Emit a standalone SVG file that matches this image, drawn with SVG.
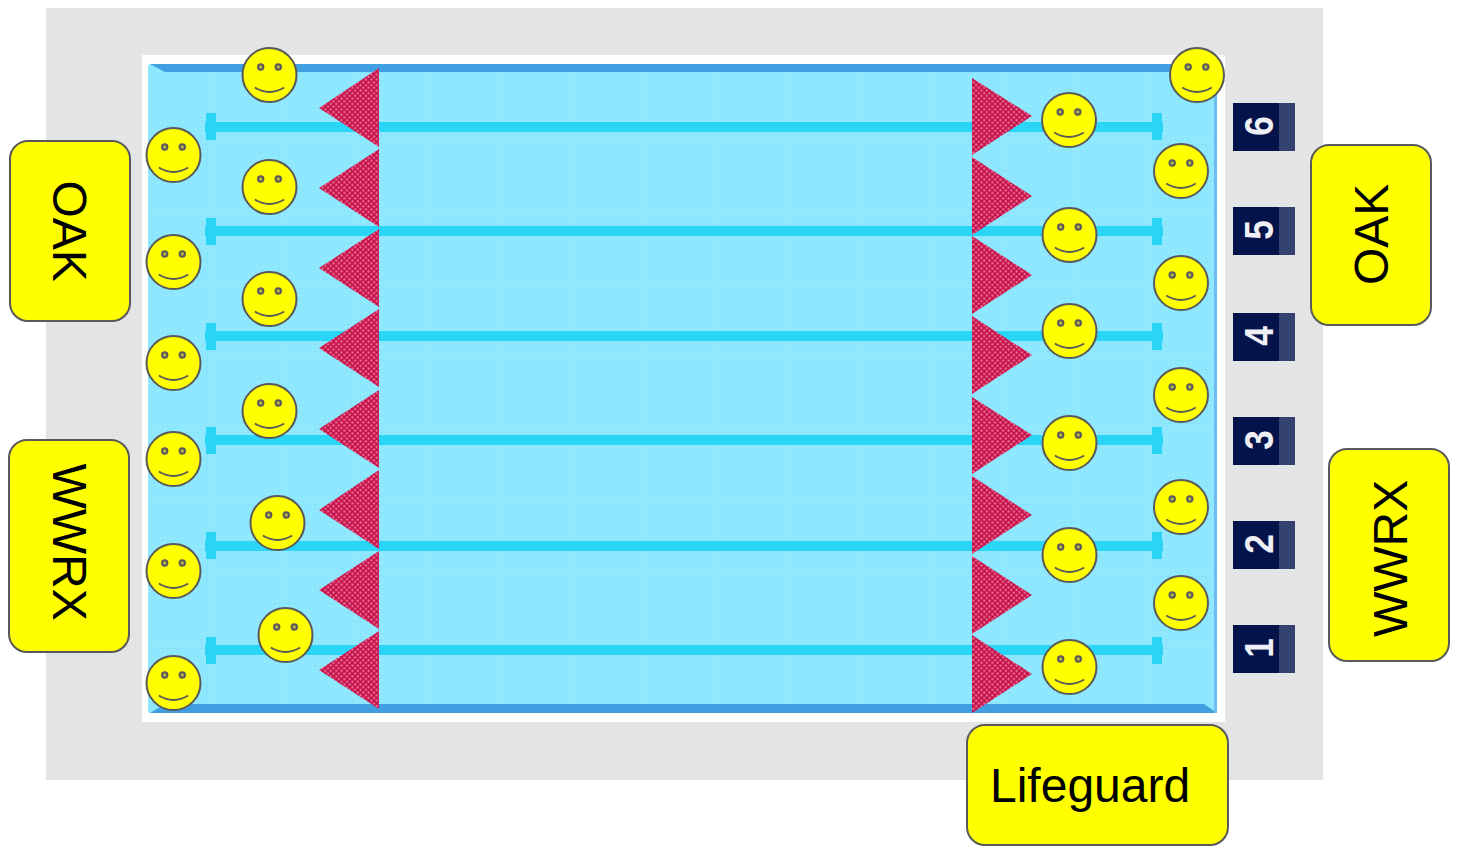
<svg xmlns="http://www.w3.org/2000/svg" width="1462" height="849" viewBox="0 0 1462 849">
<style>
.lab{fill:#ffff00;stroke:#595959;stroke-width:2}
.t{font-family:"Liberation Sans",Arial,sans-serif;font-size:48px;fill:#000}
.n{font-family:"Liberation Sans",Arial,sans-serif;font-size:41px;font-weight:bold;fill:#eef0f5;text-anchor:middle}
.lane{fill:#29d6f8}
.end{fill:#2ad4f2}
.tile{fill:#04134a}
.band{fill:#33426f}
.flag{fill:url(#dots)}
</style>
<defs>
<pattern id="dots" width="5.4" height="5.4" patternUnits="userSpaceOnUse">
<rect width="5.4" height="5.4" fill="#c4124c"/>
<circle cx="1.4" cy="1.4" r="1.1" fill="#f27a99"/>
<circle cx="4.1" cy="4.1" r="1.1" fill="#f27a99"/>
</pattern>
<pattern id="water" width="9" height="9" patternUnits="userSpaceOnUse">
<rect width="9" height="9" fill="#8fe8fd"/>
<path d="M0 0H9M0 0V9" stroke="#86e2fb" stroke-width="1" fill="none"/>
</pattern>
<symbol id="smile" overflow="visible">
<circle r="27" fill="#ffff00" stroke="#595959" stroke-width="2"/>
<circle cx="-8.8" cy="-8" r="2.7" fill="#b5b04a" stroke="#595959" stroke-width="2"/>
<circle cx="8.8" cy="-8" r="2.7" fill="#b5b04a" stroke="#595959" stroke-width="2"/>
<path d="M-14.7 12.5Q0 21.5 14.7 12.5" fill="none" stroke="#595959" stroke-width="2"/>
</symbol>
</defs>
<g id="deck">
<rect x="46" y="8" width="1277" height="772" fill="#e3e4e6"/>
<rect x="142" y="55" width="1083" height="667" fill="#fdfefe"/>
</g>
<g id="pool">
<rect x="148" y="64" width="1069" height="649" rx="3" fill="url(#water)"/>
<path d="M150 64H1217V72H165Z" fill="#3f9fe0"/>
<path d="M150 713H1217L1204 704H165Z" fill="#3f9fe0"/>
<path d="M1214 72H1217V713H1214Z" fill="#6cbcf0"/>
</g>
<g id="lanes">
<rect class="lane" x="205" y="122" width="958" height="10"/>
<rect class="lane" x="205" y="226" width="958" height="10"/>
<rect class="lane" x="205" y="331" width="958" height="10"/>
<rect class="lane" x="205" y="435" width="958" height="10"/>
<rect class="lane" x="205" y="541" width="958" height="10"/>
<rect class="lane" x="205" y="645" width="958" height="10"/>
<rect class="end" x="206" y="113" width="10" height="27"/><rect class="end" x="1152" y="113" width="10" height="27"/>
<rect class="end" x="206" y="218" width="10" height="27"/><rect class="end" x="1152" y="218" width="10" height="27"/>
<rect class="end" x="206" y="323" width="10" height="27"/><rect class="end" x="1152" y="323" width="10" height="27"/>
<rect class="end" x="206" y="427" width="10" height="27"/><rect class="end" x="1152" y="427" width="10" height="27"/>
<rect class="end" x="206" y="532" width="10" height="27"/><rect class="end" x="1152" y="532" width="10" height="27"/>
<rect class="end" x="206" y="637" width="10" height="27"/><rect class="end" x="1152" y="637" width="10" height="27"/>
</g>
<g id="flags-left">
<polygon class="flag" points="379,68 319,108 379,147"/>
<polygon class="flag" points="379,149 319,188 379,227"/>
<polygon class="flag" points="379,229 319,268 379,307"/>
<polygon class="flag" points="379,309 319,348 379,387"/>
<polygon class="flag" points="379,390 319,429 379,468"/>
<polygon class="flag" points="379,470 319,510 379,549"/>
<polygon class="flag" points="379,551 319,590 379,629"/>
<polygon class="flag" points="379,631 319,670 379,709"/>
</g>
<g id="flags-right">
<polygon class="flag" points="972,78 1032,116 972,155"/>
<polygon class="flag" points="972,157 1032,196 972,235"/>
<polygon class="flag" points="972,236 1032,275 972,314"/>
<polygon class="flag" points="972,316 1032,355 972,394"/>
<polygon class="flag" points="972,397 1032,435 972,474"/>
<polygon class="flag" points="972,476 1032,515 972,554"/>
<polygon class="flag" points="972,556 1032,595 972,634"/>
<polygon class="flag" points="972,635 1032,674 972,713"/>
</g>
<g id="tiles">
<g id="tile-6"><rect class="tile" x="1233" y="103" width="62" height="48"/><rect class="band" x="1279" y="103" width="16" height="48"/><text class="n" transform="translate(1273 126) rotate(-90) scale(.86 1)">6</text></g>
<g id="tile-5"><rect class="tile" x="1233" y="207" width="62" height="48"/><rect class="band" x="1279" y="207" width="16" height="48"/><text class="n" transform="translate(1273 230) rotate(-90) scale(.86 1)">5</text></g>
<g id="tile-4"><rect class="tile" x="1233" y="313" width="62" height="48"/><rect class="band" x="1279" y="313" width="16" height="48"/><text class="n" transform="translate(1273 336) rotate(-90) scale(.86 1)">4</text></g>
<g id="tile-3"><rect class="tile" x="1233" y="417" width="62" height="48"/><rect class="band" x="1279" y="417" width="16" height="48"/><text class="n" transform="translate(1273 440) rotate(-90) scale(.86 1)">3</text></g>
<g id="tile-2"><rect class="tile" x="1233" y="521" width="62" height="48"/><rect class="band" x="1279" y="521" width="16" height="48"/><text class="n" transform="translate(1273 544) rotate(-90) scale(.86 1)">2</text></g>
<g id="tile-1"><rect class="tile" x="1233" y="625" width="62" height="48"/><rect class="band" x="1279" y="625" width="16" height="48"/><text class="n" transform="translate(1273 648) rotate(-90) scale(.86 1)">1</text></g>
</g>
<g id="swimmers">
<use href="#smile" x="269.5" y="75"/><use href="#smile" x="269.5" y="187"/><use href="#smile" x="269.5" y="299"/><use href="#smile" x="269.5" y="411"/>
<use href="#smile" x="277.5" y="523"/><use href="#smile" x="285.5" y="635"/>
<use href="#smile" x="173.5" y="155"/><use href="#smile" x="173.5" y="262"/><use href="#smile" x="173.5" y="363"/><use href="#smile" x="173.5" y="459"/><use href="#smile" x="173.5" y="571"/><use href="#smile" x="173.5" y="683"/>
<use href="#smile" x="1069" y="120"/><use href="#smile" x="1069.5" y="235"/><use href="#smile" x="1069.5" y="331"/><use href="#smile" x="1069.5" y="443"/><use href="#smile" x="1069.5" y="555"/><use href="#smile" x="1069.5" y="667"/>
<use href="#smile" x="1197" y="75"/><use href="#smile" x="1181" y="171"/><use href="#smile" x="1181" y="283"/><use href="#smile" x="1181" y="395"/><use href="#smile" x="1181" y="507"/><use href="#smile" x="1181" y="603"/>
</g>
<g id="label-oak-left"><rect class="lab" x="10" y="141" width="120" height="180" rx="18"/><text class="t" transform="translate(53 180.5) rotate(90)">OAK</text></g>
<g id="label-wwrx-left"><rect class="lab" x="9" y="440" width="120" height="212" rx="18"/><text class="t" transform="translate(53 463.5) rotate(90)">WWRX</text></g>
<g id="label-oak-right"><rect class="lab" x="1311" y="145" width="120" height="180" rx="18"/><text class="t" transform="translate(1388 285) rotate(-90)">OAK</text></g>
<g id="label-wwrx-right"><rect class="lab" x="1329" y="449" width="120" height="212" rx="18"/><text class="t" transform="translate(1407 637) rotate(-90)">WWRX</text></g>
<g id="label-lifeguard"><rect class="lab" x="967" y="725" width="261" height="120" rx="18"/><text class="t" x="990" y="802">Lifeguard</text></g>
</svg>
